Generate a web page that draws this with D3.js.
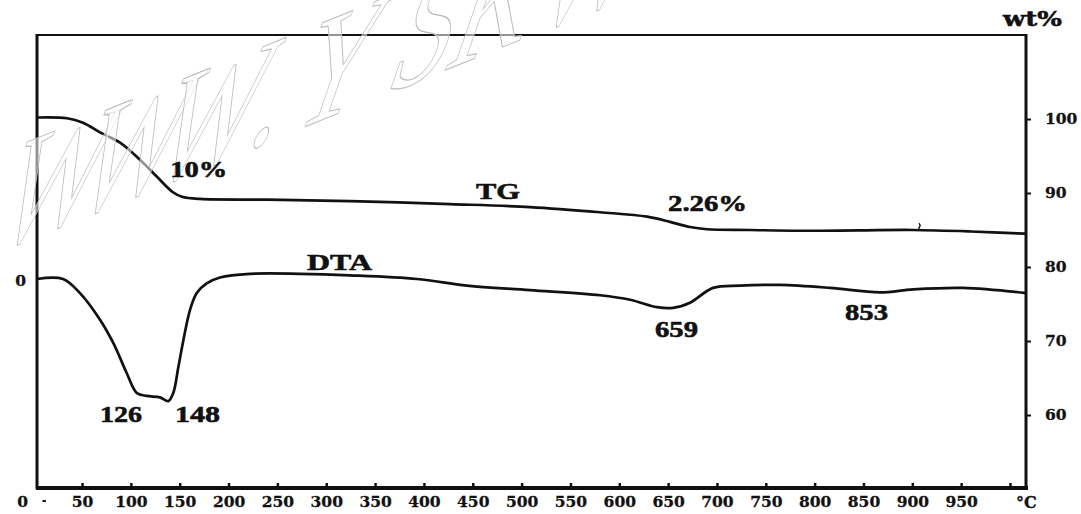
<!DOCTYPE html>
<html>
<head>
<meta charset="utf-8">
<script src="https://cdn.jsdelivr.net/npm/d3@7"></script>
<style>
  html, body { margin: 0; padding: 0; background: #fff; }
  svg { display: block; }
</style>
</head>
<body>
<svg id="chart" width="1081" height="514"></svg>
<script>
// ---------------- data ----------------
const tgTemp = [3.9, 34.6, 51, 68.4, 88.9, 109.3, 126.7, 143.1, 152.3, 170.8, 239.4, 324.3, 426.7, 508.6, 580.3, 628.4, 651.9, 672.4, 689.8, 733.8, 785, 845, 900.7, 960, 1016.4];
const tgWt   = [100.2, 100.1, 99.5, 98.2, 96.8, 94.5, 92.2, 90.1, 89.5, 89.2, 89.1, 88.9, 88.5, 88.1, 87.4, 86.8, 86.1, 85.4, 85.1, 85.0, 84.9, 84.95, 85.0, 84.8, 84.5];

const dtaTemp = [3.9, 30.5, 47.9, 68.4, 82.2, 95.7, 106, 116.2, 129.8, 138.3, 143.4, 148.6, 153.7, 160.5, 167.4, 177.6, 191.2, 221.9, 273.1, 324.3, 392.9, 444.1, 508.6, 580.3, 611, 638.6, 655, 672.4, 696, 723.6, 764.5, 815.7, 866.9, 900.7, 951.9, 1016.4];
const dtaVal  = [0, 0, -1.9, -5.5, -8.7, -12.7, -15.4, -15.8, -16.0, -16.5, -15.4, -11.9, -8.3, -4.2, -1.9, -0.6, 0.2, 0.7, 0.7, 0.5, 0, -0.9, -1.5, -2.2, -2.8, -3.8, -3.9, -3.2, -1.2, -0.9, -0.8, -1.2, -1.8, -1.4, -1.2, -1.9];

const xTickValues = [0, 50, 100, 150, 200, 250, 300, 350, 400, 450, 500, 550, 600, 650, 700, 750, 800, 850, 900, 950, 1000];
const xTickLabels = ["0", "50", "100", "150", "200", "250", "300", "350", "400", "450", "500", "550", "600", "650", "700", "750", "800", "850", "900", "950", ""];
const wtTickValues = [60, 70, 80, 90, 100];
const dtaTickValues = [0];

// annotations: text, temperature, value, series
const annText   = ["10%", "TG", "2.26%", "DTA", "126", "148", "659", "853"];
const annTemp   = [140.2, 453.3, 649.9, 280.3, 68.4, 145.2, 636.6, 831.1];
const annValue  = [92.16, 89.19, 87.57, 1.22, -19.32, -19.32, -7.84, -5.54];
const annSeries = ["tg", "tg", "tg", "dta", "dta", "dta", "dta", "dta"];
const annWidth  = [57, 44, 79, 65, 42, 45, 43, 43];

const watermarkText = "WWW.YSKW";

// ---------------- layout ----------------
const W = 1081, H = 514;
const frame = { left: 37, right: 1026, top: 35, bottom: 488 };

const x = d3.scaleLinear().domain([0, 1000]).range([33.2, 1010]);
const yTG = d3.scaleLinear().domain([60, 100]).range([415, 119]);
const yDTA = d3.scaleLinear().domain([-20, 0]).range([279 + 148, 279]);

const svg = d3.select("#chart");
svg.append("rect").attr("width", W).attr("height", H).attr("fill", "#fff");

const tickFont = "'DejaVu Serif', serif";
const annFont = "'Liberation Serif', 'Times New Roman', serif";

// frame
svg.append("line").attr("x1", frame.left).attr("x2", frame.right + 1).attr("y1", frame.top).attr("y2", frame.top)
  .attr("stroke", "#111").attr("stroke-width", 2.2);
svg.append("line").attr("x1", frame.left).attr("x2", frame.left).attr("y1", frame.top - 1).attr("y2", frame.bottom + 1)
  .attr("stroke", "#111").attr("stroke-width", 3);
svg.append("line").attr("x1", frame.right).attr("x2", frame.right).attr("y1", frame.top - 1).attr("y2", frame.bottom + 1)
  .attr("stroke", "#111").attr("stroke-width", 3);
svg.append("line").attr("x1", frame.left - 1).attr("x2", frame.right + 2).attr("y1", frame.bottom).attr("y2", frame.bottom)
  .attr("stroke", "#111").attr("stroke-width", 4);

// bottom axis
const xAxis = d3.axisBottom(x)
  .tickValues(xTickValues)
  .tickFormat((d, i) => xTickLabels[i])
  .tickSizeInner(-5).tickSizeOuter(0).tickPadding(8);
const gx = svg.append("g").attr("transform", `translate(0,${frame.bottom})`).call(xAxis);
gx.select(".domain").remove();
gx.selectAll(".tick line").attr("stroke", "#111").attr("stroke-width", 2.5)
  .attr("y1", 2).attr("y2", -5).attr("display", d => d === 0 ? "none" : null);
gx.selectAll(".tick text").attr("font-family", tickFont).attr("font-weight", "bold")
  .attr("font-size", 15.5).attr("fill", "#111").attr("stroke", "#111").attr("stroke-width", 0.3)
  .attr("dx", d => d === 0 ? -11 : 0);
svg.append("line").attr("x1", x(9.5)).attr("x2", x(13)).attr("y1", 501).attr("y2", 501)
  .attr("stroke", "#111").attr("stroke-width", 2);

// right axis (wt%)
const yAxisR = d3.axisRight(yTG).tickValues(wtTickValues).tickSizeInner(5).tickSizeOuter(0).tickPadding(14);
const gy = svg.append("g").attr("transform", `translate(${frame.right},0)`).call(yAxisR);
gy.select(".domain").remove();
gy.selectAll(".tick line").attr("stroke", "#111").attr("stroke-width", 2);
gy.selectAll(".tick text").attr("font-family", tickFont).attr("font-weight", "bold")
  .attr("font-size", 15.5).attr("fill", "#111").attr("stroke", "#111").attr("stroke-width", 0.3);

// left axis (DTA zero)
const yAxisL = d3.axisLeft(yDTA).tickValues(dtaTickValues).tickSizeInner(0).tickSizeOuter(0).tickPadding(11);
const gl = svg.append("g").attr("transform", `translate(${frame.left},0)`).call(yAxisL);
gl.select(".domain").remove();
gl.selectAll(".tick text").attr("font-family", tickFont).attr("font-weight", "bold")
  .attr("font-size", 15.5).attr("fill", "#111").attr("stroke", "#111").attr("stroke-width", 0.3).attr("dy", "0.42em");

// unit labels
svg.append("text").attr("x", 1003).attr("y", 26).attr("font-family", tickFont).attr("font-weight", "bold")
  .attr("font-size", 21).attr("textLength", 59).attr("lengthAdjust", "spacingAndGlyphs")
  .attr("fill", "#111").attr("stroke", "#111").attr("stroke-width", 0.5).text("wt%");
svg.append("text").attr("x", 1016).attr("y", 508).attr("font-family", tickFont).attr("font-weight", "bold")
  .attr("font-size", 16).attr("fill", "#111").attr("stroke", "#111").attr("stroke-width", 0.3).text("°C");

// curves
const line = d3.line().curve(d3.curveCatmullRom.alpha(0.5));
const tgPts = tgTemp.map((t, i) => [x(t), yTG(tgWt[i])]);
const dtaPts = dtaTemp.map((t, i) => [x(t), yDTA(dtaVal[i])]);
svg.append("path").attr("d", line(tgPts)).attr("fill", "none").attr("stroke", "#111")
  .attr("stroke-width", 2.7).attr("stroke-linejoin", "round");
svg.append("path").attr("d", line(dtaPts)).attr("fill", "none").attr("stroke", "#111")
  .attr("stroke-width", 2.7).attr("stroke-linejoin", "round");
// small recorder mark on TG
svg.append("path").attr("d", d3.line()([[x(906), yTG(85.0)], [x(908), yTG(85.6)], [x(907), yTG(85.9)]]))
  .attr("fill", "none").attr("stroke", "#111").attr("stroke-width", 1.4);

// watermark (outlined, slanted, rising to the right)
const wmScaleX = 0.74;
const wmLeft = [-12, 66, 144, 245, 282, 382, 442, 527];
svg.append("g").attr("transform", `translate(0,250) skewY(-22) skewX(-22) scale(${wmScaleX},1)`)
  .append("text")
  .attr("x", wmLeft.map(v => (v / wmScaleX).toFixed(1)).join(" "))
  .attr("y", 0)
  .attr("font-family", annFont).attr("font-size", 148)
  .attr("fill", "#fff").attr("fill-opacity", 0.55)
  .attr("stroke", "#bdbdbd").attr("stroke-width", 1.1)
  .attr("vector-effect", "non-scaling-stroke")
  .text(watermarkText);

// annotations
annText.forEach((t, i) => {
  const yy = annSeries[i] === "tg" ? yTG(annValue[i]) : yDTA(annValue[i]);
  svg.append("text").attr("x", x(annTemp[i])).attr("y", yy)
    .attr("font-family", annFont).attr("font-weight", "bold").attr("font-size", 24)
    .attr("textLength", annWidth[i]).attr("lengthAdjust", "spacingAndGlyphs")
    .attr("fill", "#111").attr("stroke", "#111").attr("stroke-width", 0.6).text(t);
});
</script>
</body>
</html>
